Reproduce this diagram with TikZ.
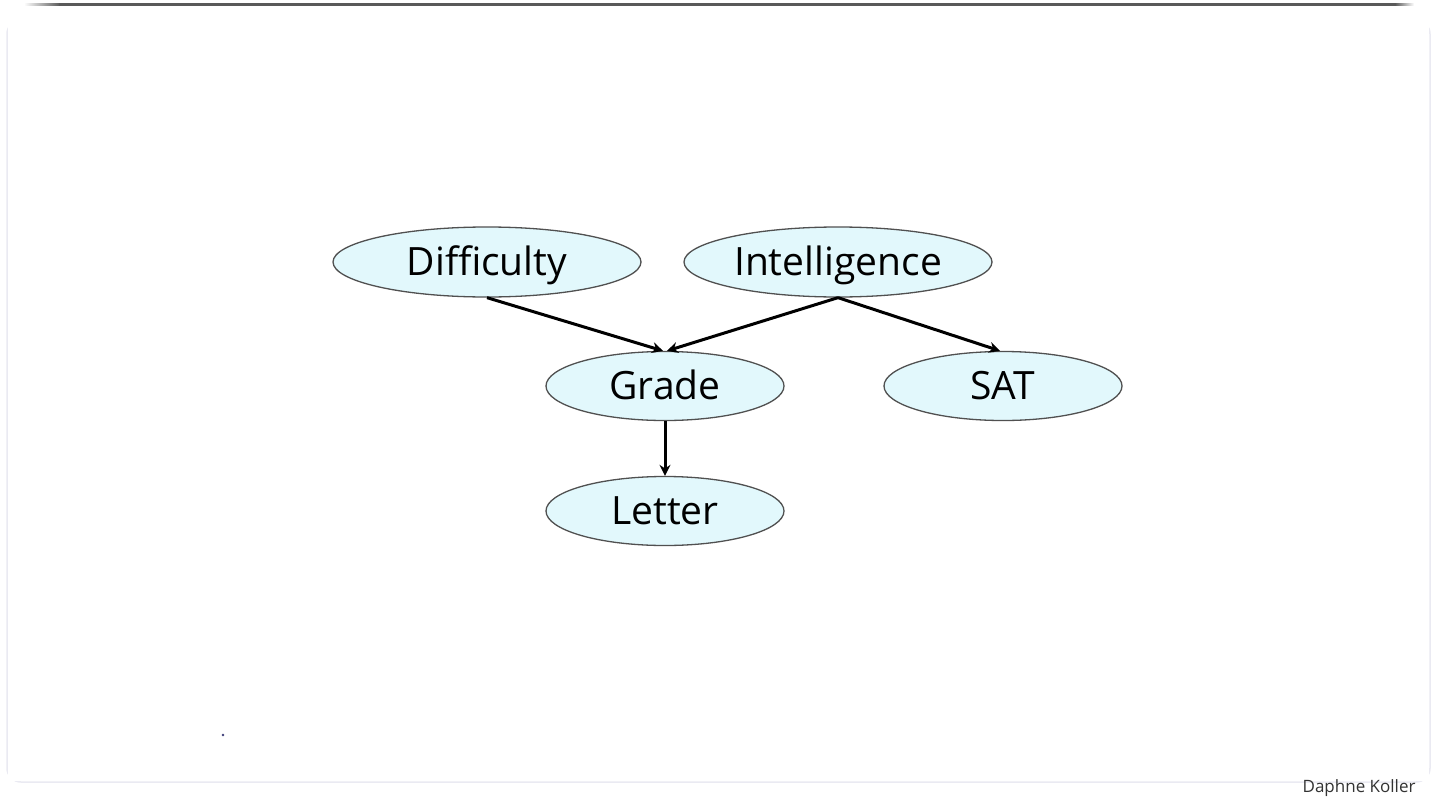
\documentclass[tikz,border=0pt]{standalone}
\usepackage{fontspec}
\setmainfont{Open Sans}
\usetikzlibrary{shapes.geometric,arrows.meta}
\definecolor{nodefill}{RGB}{226,248,252}
\definecolor{nodeline}{RGB}{80,80,80}
\definecolor{frameline}{RGB}{234,234,242}
\definecolor{dotcol}{RGB}{60,60,120}
\tikzset{
  var/.style={ellipse, draw=nodeline, line width=1.3pt, fill=nodefill, inner sep=0pt,
    font=\fontsize{39}{41}\selectfont, text=black, text height=27pt, text depth=0pt},
  big/.style={var, minimum width=308pt, minimum height=70pt},
  small/.style={var, minimum width=238pt, minimum height=69pt},
  edge/.style={line width=3pt, -{Stealth[length=11pt,width=11pt]}},
}
\begin{document}
\begin{tikzpicture}[x=1pt,y=-1pt]
\useasboundingbox (0,0) rectangle (1434,808);
\fill[white] (0,0) rectangle (1434,808);
% slide frame
\draw[frameline, line width=1.5pt, rounded corners=14pt] (7,20) rectangle (1430,782);
\fill[white] (7.8,8) rectangle (1429,781);
\shade[left color=white, right color=black!65] (24,3.2) rectangle (60,5.8);
\fill[black!65] (59,3.2) rectangle (1396,5.8);
\shade[left color=black!65, right color=white] (1395,3.2) rectangle (1414,5.8);
\fill[dotcol] (223,735) circle (1.3pt);
% nodes
\node[big] (D) at (487,262) {Difficulty};
\node[big] (I) at (838,262) {Intelligence};
\node[small] (G) at (665,386) {Grade};
\node[small] (S) at (1003,386) {SAT};
\node[small] (L) at (665,511) {Letter};
\coordinate (Gl) at ([xshift=-2pt]G.north);
\coordinate (Gr) at ([xshift=2pt]G.north);
\draw[edge] (D.south) -- (Gl);
\draw[edge] (I.south) -- (Gr);
\draw[edge] (I.south) -- ([xshift=-3pt]S.north);
\draw[edge] (G.south) -- (L.north);
\node[anchor=base east, font=\fontsize{17}{20}\selectfont, text=black!80] (K) at (1419,792) {Daphne Koller};
\end{tikzpicture}
\end{document}
